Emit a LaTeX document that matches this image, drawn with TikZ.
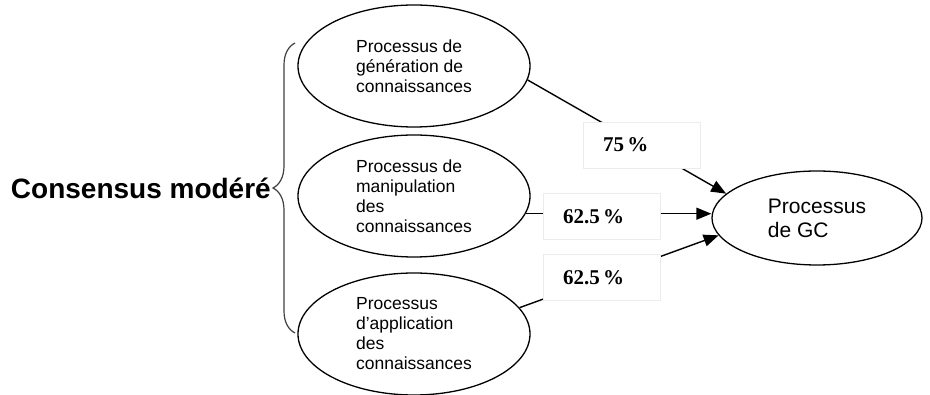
\documentclass[tikz,border=0pt]{standalone}
\usepackage{fontspec}
\setmainfont{Liberation Sans}
\newfontfamily\pctfont{Liberation Serif}
\usetikzlibrary{shapes.geometric,arrows.meta,positioning,decorations.pathreplacing}
\tikzset{
	proc/.style={ellipse, draw, line width=1.3pt, inner sep=0pt, minimum width=232pt, minimum height=122pt, align=left, font=\fontsize{17.5}{20}\selectfont},
	pct/.style={rectangle, draw=gray!15, fill=white, inner xsep=20pt, inner ysep=0pt, text width=77pt, minimum height=46pt, align=left, font=\pctfont\bfseries\fontsize{21}{24}\selectfont},
	flow/.style={line width=1.4pt, -{Triangle[length=15pt,width=12pt]}}
}
\begin{document}
\begin{tikzpicture}[x=1pt,y=-1pt]
			\useasboundingbox (0,0) rectangle (930,395);
			\node[proc] (gen) at (414,66) {Processus de\\génération de\\connaissances};
			\node[proc] (manip) at (414,196) {Processus de\\manipulation\\des\\connaissances};
			\node[proc] (appl) at (414,334) {Processus\\d'application\\des\\connaissances};
			\node[proc, minimum width=210pt, minimum height=94pt, font=\fontsize{21}{24}\selectfont] (gc) at (817,218) {Processus\\de GC};
			\draw[decorate, decoration={brace, amplitude=22pt}, line width=1.2pt, draw=black!75] (295,333) -- (295,43);
			\coordinate (tip) at (273,188);
			\node[left=2pt of tip, inner sep=0pt, font=\bfseries\fontsize{28}{32}\selectfont] (cons) {Consensus modéré};
			\draw[flow] (gen.-7) -- (gc.165);
			\draw[flow] (manip.-9) -- (manip.-9 -| gc.west);
			\draw[flow] (appl.14) -- (gc.190);
			\node[pct] (p1) at (641.5,145) {75\,\%};
			\node[pct] (p2) at (601.5,216.5) {62.5\,\%};
			\node[pct] (p3) at (601.5,277.5) {62.5\,\%};
\end{tikzpicture}
\end{document}
